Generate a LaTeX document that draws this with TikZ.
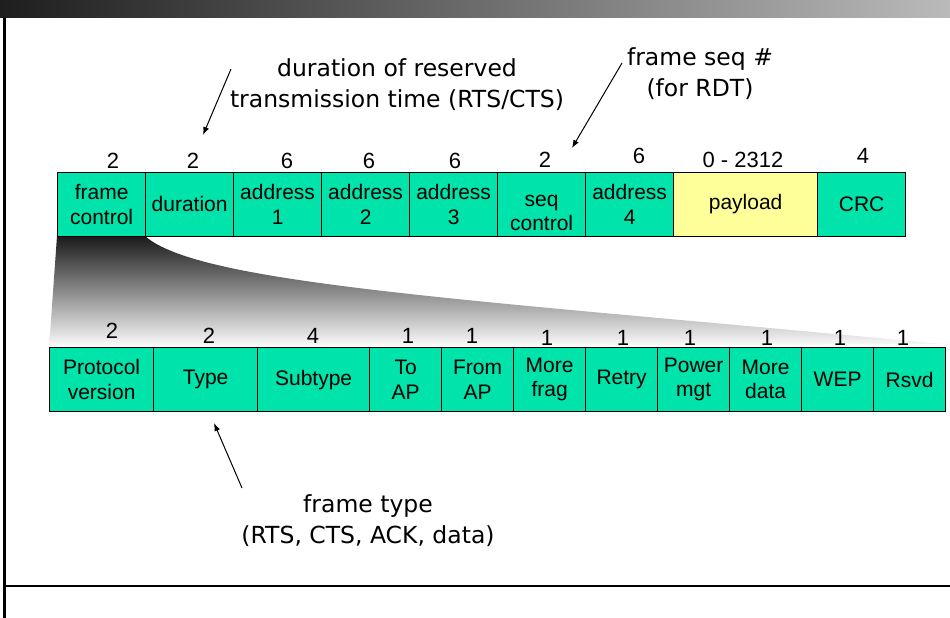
\documentclass[tikz,border=0pt]{standalone}
\usepackage{fontspec}
\usetikzlibrary{arrows.meta}
\newfontfamily\boxfont{Liberation Sans}
\newfontfamily\annfont{DejaVu Sans}
\definecolor{boxgreen}{RGB}{0,227,170}
\definecolor{payyellow}{RGB}{255,255,153}
\definecolor{barleft}{RGB}{30,30,30}
\definecolor{barright}{RGB}{186,186,186}
\begin{document}
\begin{tikzpicture}[x=1pt,y=-1pt,
  field/.style={draw=black, line width=1.2pt, fill=boxgreen, minimum height=63.5pt,
                inner sep=0pt, align=center, anchor=north west,
                font=\boxfont\fontsize{21}{24.5}\selectfont},
  num/.style={inner sep=0pt, anchor=base, font=\boxfont\fontsize{22}{24}\selectfont},
  ann/.style={inner sep=0pt, align=center, font=\annfont\fontsize{23.5}{31}\selectfont},
  pointer/.style={line width=1pt, -{Latex[length=8pt,width=6pt]}}]
\useasboundingbox (0,0) rectangle (950,618);

% title bar and slide frame
\shade[left color=barleft, right color=barright] (0,0) rectangle (950,18);
\draw[line width=3pt] (4.5,18) -- (4.5,618);
\draw[line width=1.5pt] (3,586) -- (950,586);

% fan that expands the frame control field
\shade[top color=black!90, bottom color=white]
  (57,236) -- (145,236) .. controls (200,285) and (480,300) .. (942,344)
  -- (49,348) -- cycle;

% 802.11 frame fields
\node[field, minimum width=88pt]  (fc)  at (57,172)  {frame\\control};
\node[field, minimum width=88pt]  (dur) at (145,172) {duration};
\node[field, minimum width=88pt]  (a1)  at (233,172) {address\\1};
\node[field, minimum width=88pt]  (a2)  at (321,172) {address\\2};
\node[field, minimum width=88pt]  (a3)  at (409,172) {address\\3};
\node[field, minimum width=88pt, text depth=0pt] (seq) at (497,172) {\rule{0pt}{28pt}seq\\control};
\node[field, minimum width=88pt]  (a4)  at (585,172) {address\\4};
\node[field, minimum width=144pt, fill=payyellow] (pay) at (673,172) {payload};
\node[field, minimum width=88pt]  (crc) at (817,172) {CRC};

% field sizes in bytes
\node[num] (nfc)  at (113,168) {2};
\node[num] (ndur) at (193,168) {2};
\node[num] (na1)  at (287,168) {6};
\node[num] (na2)  at (369,168) {6};
\node[num] (na3)  at (455,168) {6};
\node[num] (nseq) at (545,167) {2};
\node[num] (na4)  at (639,163) {6};
\node[num] (npay) at (743,167) {0 - 2312};
\node[num] (ncrc) at (863,163) {4};

% frame control subfields
\node[field, minimum width=104pt, minimum height=64pt] (pv)  at (49,347)  {Protocol\\version};
\node[field, minimum width=104pt, minimum height=64pt] (ty)  at (153,347) {Type};
\node[field, minimum width=112pt, minimum height=64pt] (st)  at (257,347) {Subtype};
\node[field, minimum width=72pt, minimum height=64pt]  (to)  at (369,347) {To\\AP};
\node[field, minimum width=72pt, minimum height=64pt]  (fr)  at (441,347) {From\\AP};
\node[field, minimum width=72pt, minimum height=64pt]  (mf)  at (513,347) {More\\frag};
\node[field, minimum width=72pt, minimum height=64pt]  (re)  at (585,347) {Retry};
\node[field, minimum width=72pt, minimum height=64pt]  (pm)  at (657,347) {Power\\mgt};
\node[field, minimum width=72pt, minimum height=64pt]  (md)  at (729,347) {More\\data};
\node[field, minimum width=72pt, minimum height=64pt]  (wep) at (801,347) {WEP};
\node[field, minimum width=72pt, minimum height=64pt]  (rs)  at (873,347) {Rsvd};

% subfield sizes in bits
\node[num] (npv) at (112,338) {2};
\node[num] (nty) at (209,343) {2};
\node[num] (nst) at (313,343) {4};
\node[num] (nto) at (408,343) {1};
\node[num] (nfr) at (472,343) {1};
\node[num] (nmf) at (547,345) {1};
\node[num] (nre) at (623,345) {1};
\node[num] (npm) at (690,345) {1};
\node[num] (nmd) at (767,345) {1};
\node[num] (nwe) at (840,345) {1};
\node[num] (nrs) at (903,345) {1};

% annotations
\node[ann] (durnote)  at (397,85)  {duration of reserved\\transmission time (RTS/CTS)};
\node[ann] (seqnote)  at (700,74)  {frame seq \#\\(for RDT)};
\node[ann] (typenote) at (368,521) {frame type\\(RTS, CTS, ACK, data)};

\coordinate (durfrom)  at (231,69);
\coordinate (durto)    at (203,135);
\coordinate (seqfrom)  at (622,63);
\coordinate (seqto)    at (572,148);
\coordinate (typefrom) at (242,488);
\coordinate (typeto)   at (214,423);
\draw[pointer] (durfrom) -- (durto);
\draw[pointer] (seqfrom) -- (seqto);
\draw[pointer] (typefrom) -- (typeto);
\end{tikzpicture}
\end{document}
